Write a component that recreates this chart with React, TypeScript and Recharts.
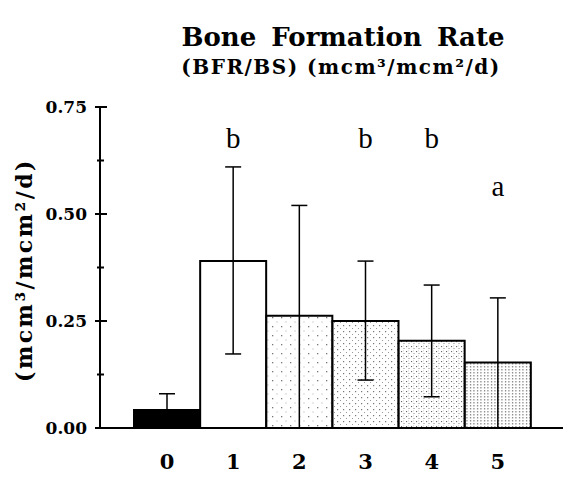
import React from "react";
import { ComposedChart, Bar, XAxis, YAxis, ErrorBar, Cell, Scatter } from "recharts";

const categories = ["0", "1", "2", "3", "4", "5"];
const means = [0.042, 0.39, 0.262, 0.25, 0.204, 0.153];
const upperBounds = [0.08, 0.61, 0.52, 0.39, 0.334, 0.304];
const lowerBounds = [0.042, 0.173, 0, 0.112, 0.073, 0];
const sigLetters = ["", "b", "", "b", "b", "a"];
const sigHeights = [null, 0.654, null, 0.654, 0.654, 0.542];
const yTicks = [0, 0.125, 0.25, 0.375, 0.5, 0.625, 0.75];
const majorTickLabels: Record<string, string> = { "0": "0.00", "0.25": "0.25", "0.5": "0.50", "0.75": "0.75" };
const fills = ["#000", "#fff", "url(#pat2)", "url(#pat3)", "url(#pat4)", "url(#pat5)"];

const data = categories.map((c, i) => ({
  cat: c,
  mean: means[i],
  err: [means[i] - lowerBounds[i], upperBounds[i] - means[i]],
  sigY: sigHeights[i],
  sig: sigLetters[i],
}));

const BOLD = "'DejaVu Serif', serif";
const TIMES = "'Liberation Serif', 'Times New Roman', serif";

const YTick = (props: any) => {
  const { x, y, payload } = props;
  const v = payload.value;
  const label = majorTickLabels[String(v)];
  const major = label !== undefined;
  return (
    <g>
      <line x1={major ? x - 5 : x - 3} x2={major ? x + 7 : x + 4} y1={y} y2={y} stroke="#000" strokeWidth={2} />
      {major && (
        <text x={x - 13} y={y} textAnchor="end" dominantBaseline="central" fontFamily={BOLD} fontWeight="bold" fontSize={17} fill="#000">
          {label}
        </text>
      )}
    </g>
  );
};

const XTick = (props: any) => {
  const { x, y, payload } = props;
  return (
    <text x={x} y={y + 41} textAnchor="middle" fontFamily={BOLD} fontWeight="bold" fontSize={21} fill="#000">
      {payload.value}
    </text>
  );
};

const SigShape = (props: any) => {
  const { cx, cy, payload } = props;
  if (!payload || !payload.sig || cy == null || isNaN(cy)) return <g />;
  return (
    <text x={cx} y={cy} textAnchor="middle" fontFamily={TIMES} fontSize={29} fill="#000">
      {payload.sig}
    </text>
  );
};

export default function App() {
  return (
    <div style={{ position: "absolute", left: 0, top: 0, width: 564, height: 495, background: "#fff" }}>
      <svg width={0} height={0} style={{ position: "absolute" }}>
        <defs>
          <pattern id="pat2" width="9" height="9" patternUnits="userSpaceOnUse">
            <rect width="9" height="9" fill="#fff" />
            <rect x="2" y="2" width="1.3" height="1.3" fill="#777" />
            <rect x="6.5" y="6.5" width="1" height="1" fill="#aaa" />
          </pattern>
          <pattern id="pat3" width="6" height="6" patternUnits="userSpaceOnUse">
            <rect width="6" height="6" fill="#fff" />
            <rect x="1" y="1" width="1.2" height="1.2" fill="#777" />
            <rect x="4" y="4" width="1" height="1" fill="#999" />
          </pattern>
          <pattern id="pat4" width="5" height="5" patternUnits="userSpaceOnUse">
            <rect width="5" height="5" fill="#fff" />
            <rect x="1" y="1" width="1.1" height="1.1" fill="#666" />
            <rect x="3.5" y="3" width="1" height="1" fill="#888" />
            <rect x="3" y="0.5" width="0.8" height="0.8" fill="#bbb" />
          </pattern>
          <pattern id="pat5" width="3.5" height="3" patternUnits="userSpaceOnUse">
            <rect width="3.5" height="3" fill="#fff" />
            <rect x="1" y="0" width="1" height="1.5" fill="#666" />
          </pattern>
        </defs>
      </svg>
      <ComposedChart width={564} height={495} data={data} margin={{ top: 107, right: 1, bottom: 0, left: 0 }} barCategoryGap={0} barGap={0}>
        <XAxis
          dataKey="cat"
          padding={{ left: 34, right: 32 }}
          height={67}
          axisLine={{ stroke: "#000", strokeWidth: 2 }}
          tickLine={false}
          tickSize={0}
          tickMargin={0}
          tick={<XTick />}
          interval={0}
        />
        <YAxis
          domain={[0, 0.75]}
          ticks={yTicks}
          width={100}
          axisLine={{ stroke: "#000", strokeWidth: 2 }}
          tickLine={false}
          tickSize={0}
          tickMargin={0}
          tick={<YTick />}
          interval={0}
          allowDataOverflow
        />
        <Bar dataKey="mean" stroke="#000" strokeWidth={2} isAnimationActive={false}>
          {data.map((d, i) => (
            <Cell key={d.cat} fill={fills[i]} />
          ))}
          <ErrorBar dataKey="err" stroke="#000" strokeWidth={1.5} width={8} direction="y" />
        </Bar>
        <Scatter dataKey="sigY" shape={<SigShape />} isAnimationActive={false} />
      </ComposedChart>
      <svg width={564} height={495} style={{ position: "absolute", left: 0, top: 0, pointerEvents: "none" }}>
        <text x={343} y={46} textAnchor="middle" fontFamily={BOLD} fontWeight="bold" fontSize={26} wordSpacing={6} fill="#000">
          Bone Formation Rate
        </text>
        <text x={341} y={74} textAnchor="middle" fontFamily={BOLD} fontWeight="bold" fontSize={20} letterSpacing={1.5} fill="#000">
          (BFR/BS) (mcm³/mcm²/d)
        </text>
        <text
          x={24}
          y={270}
          transform="rotate(-90 24 270)"
          textAnchor="middle"
          dominantBaseline="central"
          fontFamily={BOLD}
          fontWeight="bold"
          fontSize={22}
          letterSpacing={2.5}
          fill="#000"
        >
          (mcm³/mcm²/d)
        </text>
      </svg>
    </div>
  );
}
